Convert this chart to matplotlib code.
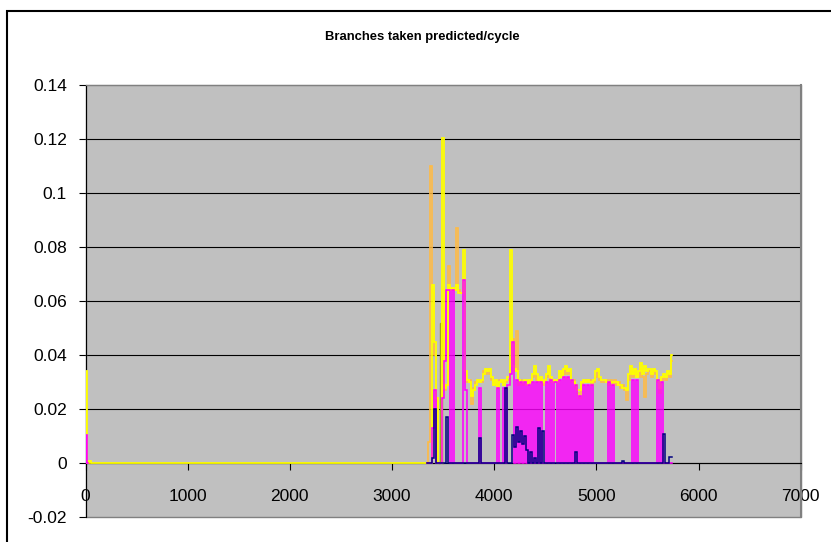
import matplotlib
matplotlib.use('Agg')
import matplotlib.pyplot as plt
from matplotlib.patches import Rectangle

# --- Data ---
# common x grid for the busy part of the run, one value every 20 cycles
GRID = list(range(3340, 5760, 20))

# start of the run (before the long flat stretch)
START_X = [0, 10, 20, 50, 60, 3320]
YELLOW_START = [0, 0.034, 0, 0.001, 0, 0]
MAGENTA_START_X = [0, 10, 20]
MAGENTA_START = [0, 0.0105, 0]

YELLOW = [
    0, 0, 0, 0.066, 0.045, 0.024, 0, 0, 0.1205, 0.028,
    0.029, 0.066, 0.064, 0.065, 0.064, 0.066, 0.063, 0.063, 0.0788, 0.034,
    0.031, 0.030, 0.025, 0.027, 0.029, 0.031, 0.030, 0.031, 0.033, 0.035,
    0.034, 0.035, 0.032, 0.029, 0.031, 0.028, 0.030, 0.031, 0.029, 0.031,
    0.032, 0.079, 0.036, 0.035, 0.034, 0.031, 0.030, 0.030, 0.031, 0.029,
    0.031, 0.030, 0.033, 0.036, 0.033, 0.031, 0.032, 0.030, 0.031, 0.033,
    0.036, 0.032, 0.030, 0.031, 0.030, 0.034, 0.032, 0.035, 0.036, 0.034,
    0.035, 0.031, 0.030, 0.029, 0.027, 0.027, 0.030, 0.031, 0.030, 0.031,
    0.030, 0.030, 0.031, 0.034, 0.035, 0.032, 0.031, 0.031, 0.030, 0.030,
    0.030, 0.030, 0.030, 0.030, 0.029, 0.029, 0.028, 0.028, 0.027, 0.033,
    0.036, 0.033, 0.035, 0.032, 0.034, 0.037, 0.033, 0.036, 0.034, 0.035,
    0.033, 0.035, 0.034, 0.031, 0.028, 0.032, 0.033, 0.032, 0.034, 0.033,
    0.040,
]

ORANGE = [
    0, 0.008, 0.110, 0.063, 0.040, 0.023, 0, 0, 0.029, 0.027,
    0.029, 0.073, 0.065, 0.064, 0.065, 0.087, 0.064, 0.063, 0.066, 0.030,
    0.030, 0.031, 0.022, 0.028, 0.030, 0.030, 0.031, 0.030, 0.034, 0.033,
    0.035, 0.033, 0.031, 0.030, 0.029, 0.029, 0.031, 0.030, 0.030, 0.030,
    0.031, 0.036, 0.046, 0.034, 0.049, 0.029, 0.031, 0.029, 0.030, 0.030,
    0.029, 0.031, 0.032, 0.034, 0.031, 0.030, 0.031, 0.029, 0.030, 0.032,
    0.034, 0.030, 0.031, 0.030, 0.031, 0.032, 0.034, 0.033, 0.035, 0.033,
    0.034, 0.030, 0.031, 0.028, 0.026, 0.024, 0.029, 0.030, 0.031, 0.030,
    0.031, 0.029, 0.030, 0.032, 0.034, 0.031, 0.030, 0.030, 0.031, 0.029,
    0.031, 0.029, 0.031, 0.029, 0.030, 0.028, 0.029, 0.027, 0.0235, 0.031,
    0.034, 0.032, 0.034, 0.033, 0.032, 0.035, 0.032, 0.0245, 0.033, 0.034,
    0.032, 0.034, 0.033, 0.030, 0.026, 0.031, 0.032, 0.031, 0.033, 0.032,
    0.038,
]

MAGENTA = [
    0, 0, 0, 0.013, 0.027, 0, 0, 0, 0.024, 0.038,
    0.064, 0.064, 0, 0.064, 0, 0, 0, 0, 0.068, 0.027,
    0, 0, 0, 0, 0, 0, 0.028, 0, 0, 0,
    0, 0, 0, 0, 0, 0.028, 0, 0, 0.028, 0,
    0.029, 0.033, 0.045, 0, 0.031, 0, 0.030, 0, 0.030, 0,
    0.029, 0, 0.030, 0, 0.030, 0, 0.030, 0, 0, 0.030,
    0, 0.031, 0, 0.030, 0, 0.031, 0, 0.032, 0, 0.032,
    0, 0.031, 0, 0.029, 0, 0.025, 0, 0.029, 0, 0.029,
    0, 0.029, 0, 0, 0, 0, 0, 0, 0, 0.030,
    0, 0.029, 0, 0, 0, 0, 0, 0, 0, 0,
    0, 0.031, 0, 0.031, 0, 0, 0, 0, 0, 0,
    0, 0, 0, 0.031, 0, 0.030, 0, 0, 0, 0,
    0,
]

NAVY = [
    0, 0, 0, 0.002, 0.020, 0, 0, 0, 0, 0,
    0.017, 0, 0, 0, 0, 0, 0, 0, 0, 0,
    0, 0, 0, 0, 0, 0, 0.0093, 0, 0, 0,
    0, 0, 0, 0, 0, 0, 0, 0, 0, 0.028,
    0, 0, 0.0105, 0.006, 0.0135, 0.008, 0.012, 0.007, 0.010, 0.005,
    0, 0.004, 0, 0.002, 0, 0.013, 0, 0.012, 0, 0,
    0, 0, 0, 0, 0, 0, 0, 0, 0, 0,
    0, 0, 0, 0.004, 0, 0, 0, 0, 0, 0,
    0, 0, 0, 0, 0, 0, 0, 0, 0, 0,
    0, 0, 0, 0, 0, 0, 0.0007, 0, 0, 0,
    0, 0, 0, 0, 0, 0, 0, 0, 0, 0,
    0, 0, 0, 0, 0, 0, 0.0107, 0, 0, 0.0025,
    0.0025,
]

OLIVE_X = [3460, 3480, 3500]
OLIVE = [0, 0.052, 0]

Y_TICKS = [-0.02, 0, 0.02, 0.04, 0.06, 0.08, 0.1, 0.12, 0.14]
Y_LABELS = ['-0.02', '0', '0.02', '0.04', '0.06', '0.08', '0.1', '0.12', '0.14']
X_TICKS = [0, 1000, 2000, 3000, 4000, 5000, 6000, 7000]
TITLE = 'Branches taken predicted/cycle'

# --- Figure ---
plt.rcParams['font.family'] = ['Liberation Sans', 'DejaVu Sans']
W, H = 831, 542
fig = plt.figure(figsize=(W / 100, H / 100), dpi=100)
fig.patch.set_facecolor('white')

# outer chart frame (cut off at right and bottom in the reference)
fig.add_artist(Rectangle((7 / W, -0.1), 1.2, 1.1 - 11 / H, transform=fig.transFigure,
                         fill=False, edgecolor='black', lw=1.5))

fig.text(422.5 / W, 1 - 37 / H, TITLE, ha='center', va='center',
         fontsize=9.4, fontweight='bold')

ax = fig.add_axes([85.5 / W, 1 - 517.3 / H, (800.7 - 85.5) / W, (517.3 - 85) / H])
ax.set_facecolor('#C0C0C0')

# series sit above the axis line, like in the spreadsheet chart
step = dict(drawstyle='steps-mid', solid_joinstyle='miter', zorder=3)
ax.plot(OLIVE_X, OLIVE, color='#A0A028', lw=1.0, **step)
ax.plot(GRID, ORANGE, color='#FFBB44', lw=1.2, **step)
ax.plot(START_X + GRID, YELLOW_START + YELLOW, color='#FFFF00', lw=1.3, **step)
ax.plot(MAGENTA_START_X, MAGENTA_START, color='#FF00FF', lw=1.2, **step)
ax.plot(GRID, MAGENTA, color='#FF00FF', lw=1.15, **step)
ax.plot(GRID, NAVY, color='#000080', lw=1.1, **step)

ax.set_xlim(0, 7000)
ax.set_ylim(-0.02, 0.14)
ax.set_yticks(Y_TICKS)
ax.set_yticklabels(Y_LABELS)
ax.set_xticks(X_TICKS)
ax.set_xticklabels([str(t) for t in X_TICKS])

ax.set_axisbelow(True)
ax.yaxis.grid(True, color='black', lw=0.8)
gl = ax.get_ygridlines()
gl[0].set_visible(False)
gl[-1].set_visible(False)

# axes lines and plot area border
ax.spines['bottom'].set_position(('data', 0))
ax.spines['bottom'].set_color('black')
ax.spines['bottom'].set_linewidth(0.8)
ax.spines['left'].set_color('black')
ax.spines['left'].set_linewidth(0.8)
ax.spines['top'].set_color('#808080')
ax.spines['right'].set_color('#808080')
ax.spines['right'].set_linewidth(1.5)
ax.add_patch(Rectangle((0, 0), 1, 1, transform=ax.transAxes, fill=False,
                       edgecolor='#808080', lw=1, zorder=0.6, clip_on=False))

ax.tick_params(axis='y', direction='out', length=5.4, width=0.8, pad=8, labelsize=12.5)
ax.tick_params(axis='x', direction='out', length=5, width=0.8, pad=13.5, labelsize=12.5)

fig.savefig('out.png', dpi=100)
